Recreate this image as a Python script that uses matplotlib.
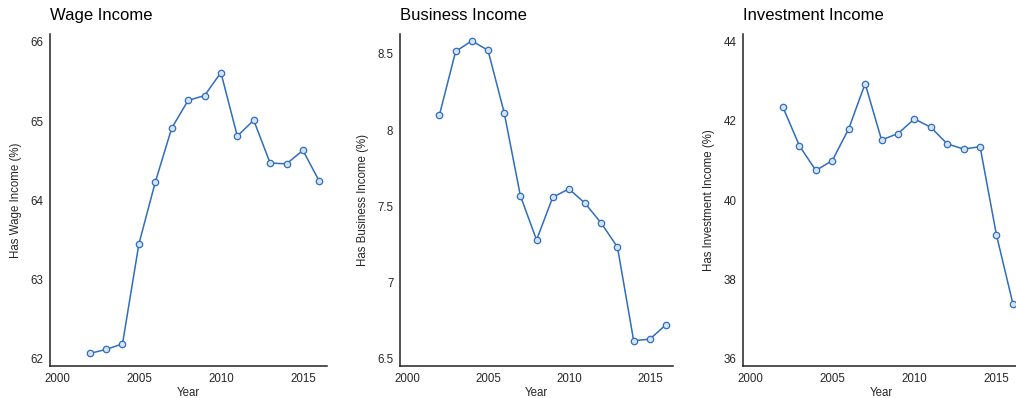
import numpy as np
import matplotlib
matplotlib.use("Agg")
from matplotlib import pyplot as plt

plt.rcParams['font.family'] = ['Liberation Sans', 'DejaVu Sans']

years = list(range(2002, 2017))

wage = [62.07, 62.12, 62.19, 63.45, 64.23, 64.91, 65.26, 65.32, 65.61,
        64.81, 65.01, 64.47, 64.46, 64.63, 64.24]
business = [8.10, 8.516, 8.585, 8.523, 8.114, 7.57, 7.28, 7.56, 7.615,
            7.52, 7.39, 7.233, 6.62, 6.63, 6.725]
investment = [42.34, 41.37, 40.75, 41.00, 41.80, 42.94, 41.52, 41.68, 42.05,
              41.84, 41.42, 41.29, 41.35, 39.12, 37.39]

titles = ["Wage Income", "Business Income", "Investment Income"]
ylabels = ["Has Wage Income (%)", "Has Business Income (%)", "Has Investment Income (%)"]
yticks = [[62, 63, 64, 65, 66], [6.5, 7, 7.5, 8, 8.5], [36, 38, 40, 42, 44]]
yticklabels = [["62", "63", "64", "65", "66"], ["6.5", "7", "7.5", "8", "8.5"],
               ["36", "38", "40", "42", "44"]]
ylims = [(61.915, 66.097), (6.456, 8.63), (35.83, 44.19)]
xticks = [2000, 2005, 2010, 2015]

line_color = "#2f6dbd"

fig = plt.figure(figsize=(10.16, 3.98), dpi=100)
W, H = 1016, 398
# left edge / width of each panel in pixels
boxes = [(50, 276.7), (400.3, 273), (743.3, 277)]
top_px, bottom_px = 34, 365.7

for i, series in enumerate([wage, business, investment]):
    left, width = boxes[i]
    ax = fig.add_axes([left / W, (H - bottom_px) / H, width / W, (bottom_px - top_px) / H])
    ax.plot(years, series, color=line_color, lw=1.1, marker="o", ms=4.6,
            mfc="#d6e3f4", mec=line_color, mew=0.9)
    ax.set_xlim(1999.58, 2016.45)
    ax.set_ylim(*ylims[i])
    ax.set_xticks(xticks)
    ax.set_yticks(yticks[i])
    ax.set_yticklabels(yticklabels[i])
    ax.tick_params(length=0, labelsize=8.3, pad=5, colors="#262626")
    for s in ["top", "right"]:
        ax.spines[s].set_visible(False)
    for s in ["left", "bottom"]:
        ax.spines[s].set_color("#222222")
        ax.spines[s].set_linewidth(1.1)
    ax.set_xlabel("Year", fontsize=8.3, color="#262626", labelpad=1.5)
    ax.set_ylabel(ylabels[i], fontsize=8.3, color="#262626", labelpad=6)
    ax.set_title(titles[i], loc="left", fontsize=12, pad=10)

fig.savefig("out.png", dpi=100)
